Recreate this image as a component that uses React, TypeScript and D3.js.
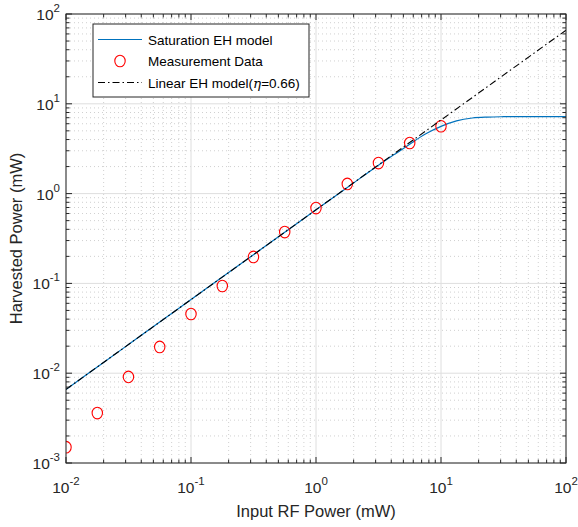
import React from "react";
import * as d3 from "d3";

// Measurement data (mW)
const measX = [0.01, 0.0178, 0.0316, 0.0562, 0.1, 0.178, 0.316, 0.562, 1, 1.78, 3.16, 5.62, 10];
const measY = [0.0015, 0.0036, 0.0091, 0.0196, 0.0456, 0.0935, 0.197, 0.373, 0.69, 1.28, 2.19, 3.66, 5.62];

// Saturation EH model curve
const satX = [0.01, 0.0178, 0.0316, 0.0562, 0.1, 0.178, 0.316, 0.562, 1, 1.78, 3.16, 4.22, 5.62, 7.5, 10, 13.3, 17.8, 23.7, 31.6, 42, 56.2, 100];
const satY = [0.0066, 0.01175, 0.02086, 0.0371, 0.066, 0.1175, 0.2086, 0.371, 0.66, 1.17, 2.07, 2.72, 3.55, 4.6, 5.6, 6.45, 6.95, 7.12, 7.18, 7.2, 7.2, 7.2];

// Linear EH model (eta = 0.66)
const linX = [0.01, 100];
const linY = [0.0066, 66];

const xTickExps = [-2, -1, 0, 1, 2];
const yTickExps = [-3, -2, -1, 0, 1, 2];

const W = 578, H = 527;
const L = 66, T = 14, R = 566, B = 463;
const FONT = "'Liberation Sans', Arial, Helvetica, sans-serif";
const AX = "#262626";

export default function App() {
  const x = d3.scaleLog().domain([1e-2, 1e2]).range([L, R]);
  const y = d3.scaleLog().domain([1e-3, 1e2]).range([B, T]);

  const minorX: number[] = [];
  for (let e = -2; e < 2; e++) for (let m = 2; m <= 9; m++) minorX.push(m * Math.pow(10, e));
  const minorY: number[] = [];
  for (let e = -3; e < 2; e++) for (let m = 2; m <= 9; m++) minorY.push(m * Math.pow(10, e));

  const line = d3
    .line<[number, number]>()
    .x((d) => x(d[0]))
    .y((d) => y(d[1]))
    .curve(d3.curveMonotoneX);
  const satPath = line(satX.map((v, i) => [v, satY[i]] as [number, number])) || "";
  const linPath =
    d3
      .line<[number, number]>()
      .x((d) => x(d[0]))
      .y((d) => y(d[1]))(linX.map((v, i) => [v, linY[i]] as [number, number])) || "";

  const majT = 6, minT = 3.5;

  return (
    <svg width={W} height={H} style={{ position: "absolute", left: 0, top: 0, background: "#fff" }} fontFamily={FONT}>
      <defs>
        <clipPath id="plotclip">
          <rect x={L} y={T} width={R - L} height={B - T} />
        </clipPath>
      </defs>
      <rect x={0} y={0} width={W} height={H} fill="#fff" />
      {/* minor grid */}
      {minorX.map((v, i) => (
        <line key={"mgx" + i} x1={x(v)} x2={x(v)} y1={T} y2={B} stroke="#c4c4c4" strokeWidth={0.8} strokeDasharray="1,3" />
      ))}
      {minorY.map((v, i) => (
        <line key={"mgy" + i} y1={y(v)} y2={y(v)} x1={L} x2={R} stroke="#c4c4c4" strokeWidth={0.8} strokeDasharray="1,3" />
      ))}
      {/* major grid */}
      {xTickExps.map((e) => (
        <line key={"gx" + e} x1={x(Math.pow(10, e))} x2={x(Math.pow(10, e))} y1={T} y2={B} stroke="#dedede" strokeWidth={1} />
      ))}
      {yTickExps.map((e) => (
        <line key={"gy" + e} y1={y(Math.pow(10, e))} y2={y(Math.pow(10, e))} x1={L} x2={R} stroke="#dedede" strokeWidth={1} />
      ))}

      <g clipPath="url(#plotclip)">
        <path d={satPath} fill="none" stroke="#0072BD" strokeWidth={1.2} />
        {measX.map((v, i) => (
          <ellipse key={"m" + i} cx={x(v)} cy={y(measY[i])} rx={5.2} ry={5.8} fill="none" stroke="#ff0000" strokeWidth={1.1} />
        ))}
        <path d={linPath} fill="none" stroke="#000" strokeWidth={1.1} strokeDasharray="7,3,1.5,3" />
      </g>

      {/* axes box */}
      <rect x={L} y={T} width={R - L} height={B - T} fill="none" stroke={AX} strokeWidth={1} />
      {/* ticks */}
      {xTickExps.map((e) => {
        const px = x(Math.pow(10, e));
        return (
          <g key={"tx" + e}>
            <line x1={px} x2={px} y1={B} y2={B - majT} stroke={AX} />
            <line x1={px} x2={px} y1={T} y2={T + majT} stroke={AX} />
          </g>
        );
      })}
      {minorX.map((v, i) => {
        const px = x(v);
        return (
          <g key={"mtx" + i}>
            <line x1={px} x2={px} y1={B} y2={B - minT} stroke={AX} />
            <line x1={px} x2={px} y1={T} y2={T + minT} stroke={AX} />
          </g>
        );
      })}
      {yTickExps.map((e) => {
        const py = y(Math.pow(10, e));
        return (
          <g key={"ty" + e}>
            <line y1={py} y2={py} x1={L} x2={L + majT} stroke={AX} />
            <line y1={py} y2={py} x1={R} x2={R - majT} stroke={AX} />
          </g>
        );
      })}
      {minorY.map((v, i) => {
        const py = y(v);
        return (
          <g key={"mty" + i}>
            <line y1={py} y2={py} x1={L} x2={L + minT} stroke={AX} />
            <line y1={py} y2={py} x1={R} x2={R - minT} stroke={AX} />
          </g>
        );
      })}

      {/* tick labels */}
      {xTickExps.map((e) => (
        <text key={"lx" + e} x={x(Math.pow(10, e))} y={B + 30} textAnchor="middle" fontSize={15.5} fill={AX}>
          10<tspan dy={-8} fontSize={11.5}>{e}</tspan>
        </text>
      ))}
      {yTickExps.map((e) => (
        <text key={"ly" + e} x={L - 6} y={y(Math.pow(10, e)) + 6} textAnchor="end" fontSize={15.5} fill={AX}>
          10<tspan dy={-8} fontSize={11.5}>{e}</tspan>
        </text>
      ))}

      {/* axis labels */}
      <text x={(L + R) / 2} y={517} textAnchor="middle" fontSize={16.5} fill={AX}>
        Input RF Power (mW)
      </text>
      <text transform={`translate(22,${(T + B) / 2}) rotate(-90)`} textAnchor="middle" fontSize={16.5} fill={AX}>
        Harvested Power (mW)
      </text>

      {/* legend */}
      <g>
        <rect x={93} y={24} width={216} height={73} fill="#fff" stroke={AX} strokeWidth={1} />
        <line x1={98} x2={142} y1={39.5} y2={39.5} stroke="#0072BD" strokeWidth={1.2} />
        <text x={148} y={44.5} fontSize={13.5} fill="#000">Saturation EH model</text>
        <ellipse cx={120} cy={61} rx={5.2} ry={5.8} fill="none" stroke="#ff0000" strokeWidth={1.1} />
        <text x={148} y={66} fontSize={13.5} fill="#000">Measurement Data</text>
        <line x1={98} x2={142} y1={82.5} y2={82.5} stroke="#000" strokeWidth={1.1} strokeDasharray="7,3,1.5,3" />
        <text x={148} y={87.5} fontSize={13.5} fill="#000">
          Linear EH model(<tspan fontStyle="italic" fontFamily="'DejaVu Serif', 'Liberation Serif', serif">η</tspan>=0.66)
        </text>
      </g>
    </svg>
  );
}
